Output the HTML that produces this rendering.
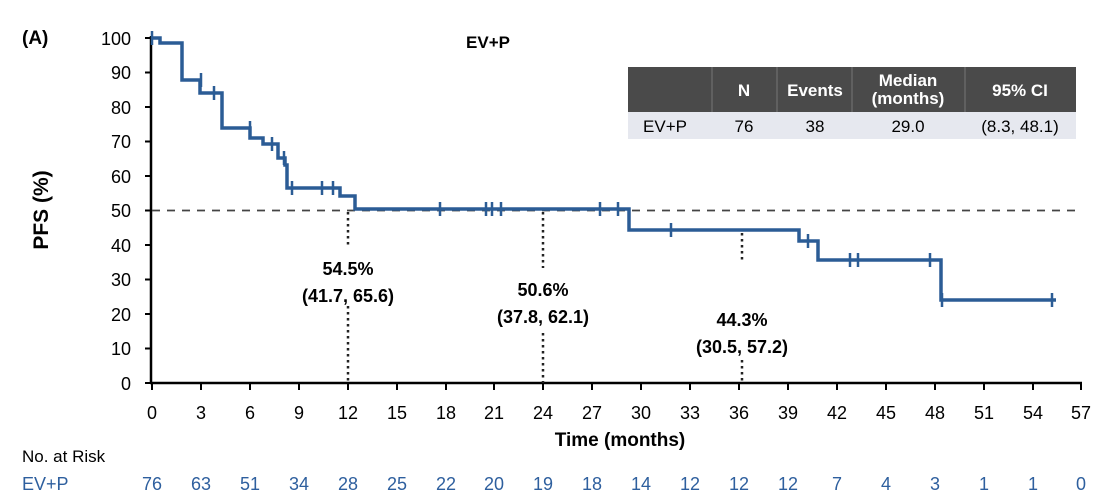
<!DOCTYPE html>
<html><head><style>
body{margin:0;background:#fff;}
svg{display:block;font-family:"Liberation Sans",Arial,sans-serif;}
</style></head><body>
<svg width="1102" height="500" viewBox="0 0 1102 500">
<rect width="1102" height="500" fill="#fff"/>
<text x="22" y="44" font-size="19" font-weight="bold">(A)</text>
<text x="488" y="48" font-size="17" font-weight="bold" text-anchor="middle">EV+P</text>
<text transform="translate(48,210) rotate(-90)" font-size="21" font-weight="bold" text-anchor="middle">PFS (%)</text>
<line x1="151" y1="36" x2="151" y2="384" stroke="#000" stroke-width="2.5"/>
<line x1="150" y1="383" x2="1082" y2="383" stroke="#000" stroke-width="2.5"/>
<g stroke="#000" stroke-width="2">
<line x1="145" y1="38" x2="151" y2="38"/><line x1="145" y1="72.5" x2="151" y2="72.5"/><line x1="145" y1="107" x2="151" y2="107"/><line x1="145" y1="141.5" x2="151" y2="141.5"/><line x1="145" y1="176" x2="151" y2="176"/><line x1="145" y1="210.5" x2="151" y2="210.5"/><line x1="145" y1="245" x2="151" y2="245"/><line x1="145" y1="279.5" x2="151" y2="279.5"/><line x1="145" y1="314" x2="151" y2="314"/><line x1="145" y1="348.5" x2="151" y2="348.5"/><line x1="145" y1="383" x2="151" y2="383"/>
</g>
<g font-size="18" text-anchor="end">
<text x="131" y="45">100</text><text x="131" y="79">90</text><text x="131" y="114">80</text><text x="131" y="148">70</text><text x="131" y="183">60</text><text x="131" y="217">50</text><text x="131" y="252">40</text><text x="131" y="286">30</text><text x="131" y="321">20</text><text x="131" y="355">10</text><text x="131" y="390">0</text>
</g>
<g stroke="#000" stroke-width="2">
<line x1="152" y1="383" x2="152" y2="390"/><line x1="201" y1="383" x2="201" y2="390"/><line x1="250" y1="383" x2="250" y2="390"/><line x1="299" y1="383" x2="299" y2="390"/><line x1="348" y1="383" x2="348" y2="390"/><line x1="397" y1="383" x2="397" y2="390"/><line x1="446" y1="383" x2="446" y2="390"/><line x1="494" y1="383" x2="494" y2="390"/><line x1="543" y1="383" x2="543" y2="390"/><line x1="592" y1="383" x2="592" y2="390"/><line x1="641" y1="383" x2="641" y2="390"/><line x1="690" y1="383" x2="690" y2="390"/><line x1="739" y1="383" x2="739" y2="390"/><line x1="788" y1="383" x2="788" y2="390"/><line x1="837" y1="383" x2="837" y2="390"/><line x1="886" y1="383" x2="886" y2="390"/><line x1="935" y1="383" x2="935" y2="390"/><line x1="984" y1="383" x2="984" y2="390"/><line x1="1033" y1="383" x2="1033" y2="390"/><line x1="1081" y1="383" x2="1081" y2="390"/>
</g>
<g font-size="18" text-anchor="middle">
<text x="152" y="419">0</text><text x="201" y="419">3</text><text x="250" y="419">6</text><text x="299" y="419">9</text><text x="348" y="419">12</text><text x="397" y="419">15</text><text x="446" y="419">18</text><text x="494" y="419">21</text><text x="543" y="419">24</text><text x="592" y="419">27</text><text x="641" y="419">30</text><text x="690" y="419">33</text><text x="739" y="419">36</text><text x="788" y="419">39</text><text x="837" y="419">42</text><text x="886" y="419">45</text><text x="935" y="419">48</text><text x="984" y="419">51</text><text x="1033" y="419">54</text><text x="1081" y="419">57</text>
</g>
<text x="620" y="446" font-size="19" font-weight="bold" text-anchor="middle">Time (months)</text>
<text x="22" y="462" font-size="17">No. at Risk</text>
<text x="22" y="490" font-size="18" fill="#2e5f9e">EV+P</text>
<g font-size="18" fill="#2e5f9e" text-anchor="middle">
<text x="152" y="490">76</text><text x="201" y="490">63</text><text x="250" y="490">51</text><text x="299" y="490">34</text><text x="348" y="490">28</text><text x="397" y="490">25</text><text x="446" y="490">22</text><text x="494" y="490">20</text><text x="543" y="490">19</text><text x="592" y="490">18</text><text x="641" y="490">14</text><text x="690" y="490">12</text><text x="739" y="490">12</text><text x="788" y="490">12</text><text x="837" y="490">7</text><text x="886" y="490">4</text><text x="935" y="490">3</text><text x="984" y="490">1</text><text x="1033" y="490">1</text><text x="1081" y="490">0</text>
</g>
<line x1="152" y1="210.5" x2="1082" y2="210.5" stroke="#444" stroke-width="1.8" stroke-dasharray="8,7"/>
<g stroke="#222" stroke-width="2.5" stroke-dasharray="2.5,3.5">
<line x1="348" y1="212" x2="348" y2="248"/><line x1="348" y1="306" x2="348" y2="383"/>
<line x1="543" y1="212" x2="543" y2="268"/><line x1="543" y1="333" x2="543" y2="383"/>
<line x1="742" y1="233" x2="742" y2="260"/><line x1="742" y1="360" x2="742" y2="383"/>
</g>
<g font-size="18" font-weight="bold" text-anchor="middle">
<text x="348" y="275">54.5%</text><text x="348" y="302">(41.7, 65.6)</text>
<text x="543" y="296">50.6%</text><text x="543" y="323">(37.8, 62.1)</text>
<text x="742" y="326">44.3%</text><text x="742" y="353">(30.5, 57.2)</text>
</g>
<polyline fill="none" stroke="#2b5c95" stroke-width="3.5" points="152,38 160,38 160,43 182,43 182,80 200,80 200,93 222,93 222,128 250,128 250,138 263,138 263,144 278,144 278,158 285,158 285,165 287,165 287,188 340,188 340,196 355,196 355,209 629,209 629,230 799,230 799,241 818,241 818,260 941,260 941,300 1056,300"/>
<g stroke="#2b5c95" stroke-width="2.5">
<line x1="152" y1="31" x2="152" y2="45"/><line x1="201" y1="73" x2="201" y2="87"/><line x1="214" y1="86" x2="214" y2="100"/><line x1="250" y1="121" x2="250" y2="135"/><line x1="272" y1="137" x2="272" y2="151"/><line x1="284" y1="151" x2="284" y2="165"/><line x1="292" y1="181" x2="292" y2="195"/><line x1="322" y1="181" x2="322" y2="195"/><line x1="333" y1="181" x2="333" y2="195"/>
<line x1="440" y1="202" x2="440" y2="216"/><line x1="486" y1="202" x2="486" y2="216"/><line x1="492" y1="202" x2="492" y2="216"/><line x1="501" y1="202" x2="501" y2="216"/><line x1="600" y1="202" x2="600" y2="216"/><line x1="618" y1="202" x2="618" y2="216"/>
<line x1="671" y1="223" x2="671" y2="237"/><line x1="808" y1="234" x2="808" y2="248"/><line x1="850" y1="253" x2="850" y2="267"/><line x1="858" y1="253" x2="858" y2="267"/><line x1="930" y1="253" x2="930" y2="267"/><line x1="942" y1="293" x2="942" y2="307"/><line x1="1052" y1="293" x2="1052" y2="307"/>
</g>
<rect x="628" y="67" width="448" height="45" fill="#4a4a4a"/>
<rect x="628" y="112" width="448" height="27" fill="#e6e8ef"/>
<g stroke="#777" stroke-width="1"><line x1="712" y1="67" x2="712" y2="112"/><line x1="777" y1="67" x2="777" y2="112"/><line x1="852" y1="67" x2="852" y2="112"/><line x1="965" y1="67" x2="965" y2="112"/></g>
<g fill="#fff" font-size="17" font-weight="bold" text-anchor="middle">
<text x="744" y="96">N</text><text x="815" y="96">Events</text><text x="908" y="86">Median</text><text x="908" y="104">(months)</text><text x="1020" y="96">95% CI</text>
</g>
<g font-size="17" text-anchor="middle">
<text x="665" y="132">EV+P</text><text x="744" y="132">76</text><text x="815" y="132">38</text><text x="908" y="132">29.0</text><text x="1020" y="132">(8.3, 48.1)</text>
</g>
</svg>
</body></html>
